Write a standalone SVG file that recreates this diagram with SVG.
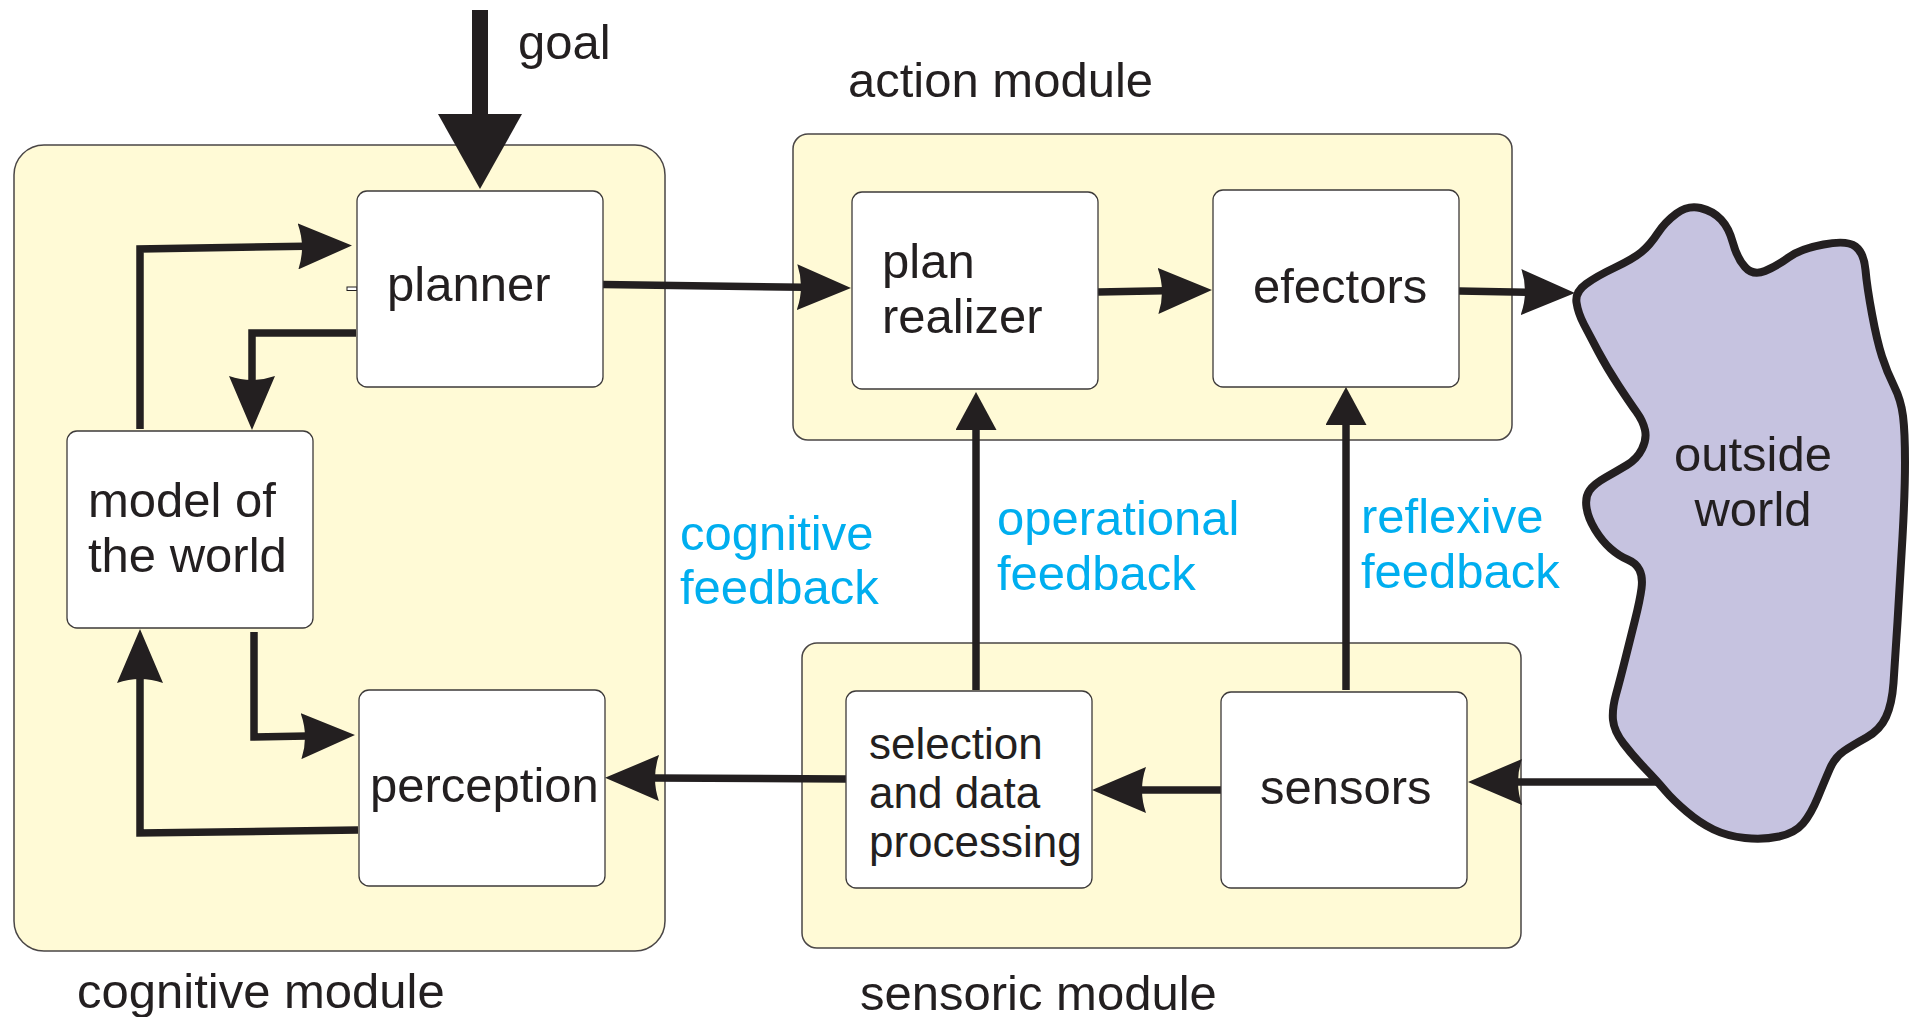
<svg xmlns="http://www.w3.org/2000/svg" width="1910" height="1017" viewBox="0 0 1910 1017">
  <defs>
    <style>
      .module { fill: #FFFAD6; stroke: #4a4646; stroke-width: 1.5; }
      .node { fill: #FFFFFF; stroke: #3d3a3a; stroke-width: 1.3; }
      .label { font-family: "Liberation Sans", Arial, Helvetica, sans-serif; font-size: 49px; fill: #231F20; }
      .small { font-size: 44px; }
      .fb { fill: #00AEEF; }
      .wire { fill: none; stroke: #231F20; stroke-width: 7.5; stroke-linejoin: miter; stroke-linecap: butt; }
      .barb { marker-end: url(#barb); }
      .tri { marker-end: url(#tri); }
    </style>
    <!-- notched arrowhead: tip at x=54, shaft joins at the notch -->
    <marker id="barb" markerUnits="userSpaceOnUse" viewBox="0 0 54 46" markerWidth="54" markerHeight="46" refX="6" refY="23" orient="auto">
      <path d="M0,0 L54,23 L0,46 Q8,23 0,0 Z" fill="#231F20"/>
    </marker>
    <!-- flat-backed arrowhead for the feedback lines -->
    <marker id="tri" markerUnits="userSpaceOnUse" viewBox="0 0 38 41" markerWidth="38" markerHeight="41" refX="1" refY="20.5" orient="auto">
      <path d="M0,0 L38,20.5 L0,41 Z" fill="#231F20"/>
    </marker>
    <!-- large arrowhead for the goal input -->
    <marker id="big" markerUnits="userSpaceOnUse" viewBox="0 0 75 84" markerWidth="75" markerHeight="84" refX="1" refY="42" orient="auto">
      <path d="M0,0 L75,42 L0,84 Z" fill="#231F20"/>
    </marker>
  </defs>

  <rect width="1910" height="1017" fill="#FFFFFF"/>

  <!-- modules -->
  <g id="cognitive-module">
    <rect class="module" x="14" y="145" width="651" height="806" rx="30" ry="30"/>
    <text class="label" x="77" y="1008">cognitive module</text>
  </g>
  <g id="action-module">
    <rect class="module" x="793" y="134" width="719" height="306" rx="15" ry="15"/>
    <text class="label" x="848" y="97">action module</text>
  </g>
  <g id="sensoric-module">
    <rect class="module" x="802" y="643" width="719" height="305" rx="15" ry="15"/>
    <text class="label" x="860" y="1010">sensoric module</text>
  </g>

  <!-- outside world -->
  <g id="outside-world">
    <path d="M1576.5,302.5 Q1575,292 1586,284 Q1597,276 1615,267.5 Q1633,259 1641.5,252 Q1650,245 1657.5,233.5 Q1665,222 1676.5,213.5 Q1688,205 1700.5,208 Q1713,211 1721,219.5 Q1729,228 1733,243 Q1737,258 1745,267 Q1753,276 1765,271 Q1777,266 1788.5,257.5 Q1800,249 1823.5,244.5 Q1847,240 1855.5,246.5 Q1864,253 1865.5,270 Q1867,287 1872,314 Q1877,341 1882,356.5 Q1887,372 1894,386 Q1901,400 1903,416 Q1905,432 1905,462 Q1905,492 1902.5,537 Q1900,582 1897.5,622 Q1895,662 1893.5,683 Q1892,704 1886,717 Q1880,730 1866.5,737.5 Q1853,745 1844,751 Q1835,757 1830,768.5 Q1825,780 1818,797 Q1811,814 1803,823.5 Q1795,833 1779,836.5 Q1763,840 1745,838 Q1727,836 1713.5,829.5 Q1700,823 1686.5,811.5 Q1673,800 1665,790.5 Q1657,781 1645,768.5 Q1633,756 1623.5,743.5 Q1614,731 1613,720 Q1612,709 1616,694.5 Q1620,680 1625,660 Q1630,640 1635,620 Q1640,600 1641.5,588.5 Q1643,577 1639.5,570 Q1636,563 1627.5,559.5 Q1619,556 1610.5,548.5 Q1602,541 1595,529.5 Q1588,518 1586.5,507.5 Q1585,497 1589.5,490.5 Q1594,484 1605.5,477.5 Q1617,471 1627,465 Q1637,459 1642,449 Q1647,439 1645,430 Q1643,421 1636.5,412 Q1630,403 1618.5,385.5 Q1607,368 1598.5,352 Q1590,336 1584,324.5 Q1578,313 1576.5,302.5 Z" fill="#C6C3E0" stroke="#231F20" stroke-width="8" stroke-linejoin="round"/>
    <text class="label" x="1753" y="471" text-anchor="middle">outside</text>
    <text class="label" x="1753" y="526" text-anchor="middle">world</text>
  </g>

  <!-- connectors -->
  <g id="connectors">
    <path d="M480,10 V115" fill="none" stroke="#231F20" stroke-width="16" marker-end="url(#big)"/>
    <path class="wire barb" d="M603,284.5 L803,287.3"/>
    <path class="wire barb" d="M1098,292 L1164,290.8"/>
    <path class="wire barb" d="M1459,291 L1527,292.2"/>
    <path class="wire barb" d="M1659,782 L1516,782"/>
    <path class="wire barb" d="M1221,790 L1140,790"/>
    <path class="wire barb" d="M846,779 L653,778"/>
    <path class="wire barb" d="M356,333 H252 V382"/>
    <path class="wire barb" d="M140,429 V249 L304,246.3"/>
    <path class="wire barb" d="M254,632 V737 L307,736"/>
    <path class="wire barb" d="M358,830 L140,833 V677"/>
    <path class="wire tri" d="M976,690 V429"/>
    <path class="wire tri" d="M1346,690 V424"/>
    <rect x="347" y="287" width="10" height="3.5" fill="#FFFFFF" stroke="#231F20" stroke-width="1"/>
  </g>

  <!-- goal label -->
  <g id="goal">
    <text class="label" x="518" y="59">goal</text>
  </g>

  <!-- nodes -->
  <g id="planner">
    <rect class="node" x="357" y="191" width="246" height="196" rx="10" ry="10"/>
    <text class="label" x="387" y="301">planner</text>
  </g>
  <g id="plan-realizer">
    <rect class="node" x="852" y="192" width="246" height="197" rx="10" ry="10"/>
    <text class="label" x="882" y="278">plan</text>
    <text class="label" x="882" y="333">realizer</text>
  </g>
  <g id="efectors">
    <rect class="node" x="1213" y="190" width="246" height="197" rx="10" ry="10"/>
    <text class="label" x="1253" y="303">efectors</text>
  </g>
  <g id="model-of-the-world">
    <rect class="node" x="67" y="431" width="246" height="197" rx="10" ry="10"/>
    <text class="label" x="88" y="517">model of</text>
    <text class="label" x="88" y="572">the world</text>
  </g>
  <g id="perception">
    <rect class="node" x="359" y="690" width="246" height="196" rx="10" ry="10"/>
    <text class="label" x="370" y="802">perception</text>
  </g>
  <g id="selection">
    <rect class="node" x="846" y="691" width="246" height="197" rx="10" ry="10"/>
    <text class="label small" x="869" y="759">selection</text>
    <text class="label small" x="869" y="808">and data</text>
    <text class="label small" x="869" y="857">processing</text>
  </g>
  <g id="sensors">
    <rect class="node" x="1221" y="692" width="246" height="196" rx="10" ry="10"/>
    <text class="label" x="1260" y="804">sensors</text>
  </g>

  <!-- feedback labels -->
  <g id="feedback-labels">
    <text class="label fb" x="680" y="550">cognitive</text>
    <text class="label fb" x="680" y="604">feedback</text>
    <text class="label fb" x="997" y="535">operational</text>
    <text class="label fb" x="997" y="590">feedback</text>
    <text class="label fb" x="1361" y="533">reflexive</text>
    <text class="label fb" x="1361" y="588">feedback</text>
  </g>
</svg>
